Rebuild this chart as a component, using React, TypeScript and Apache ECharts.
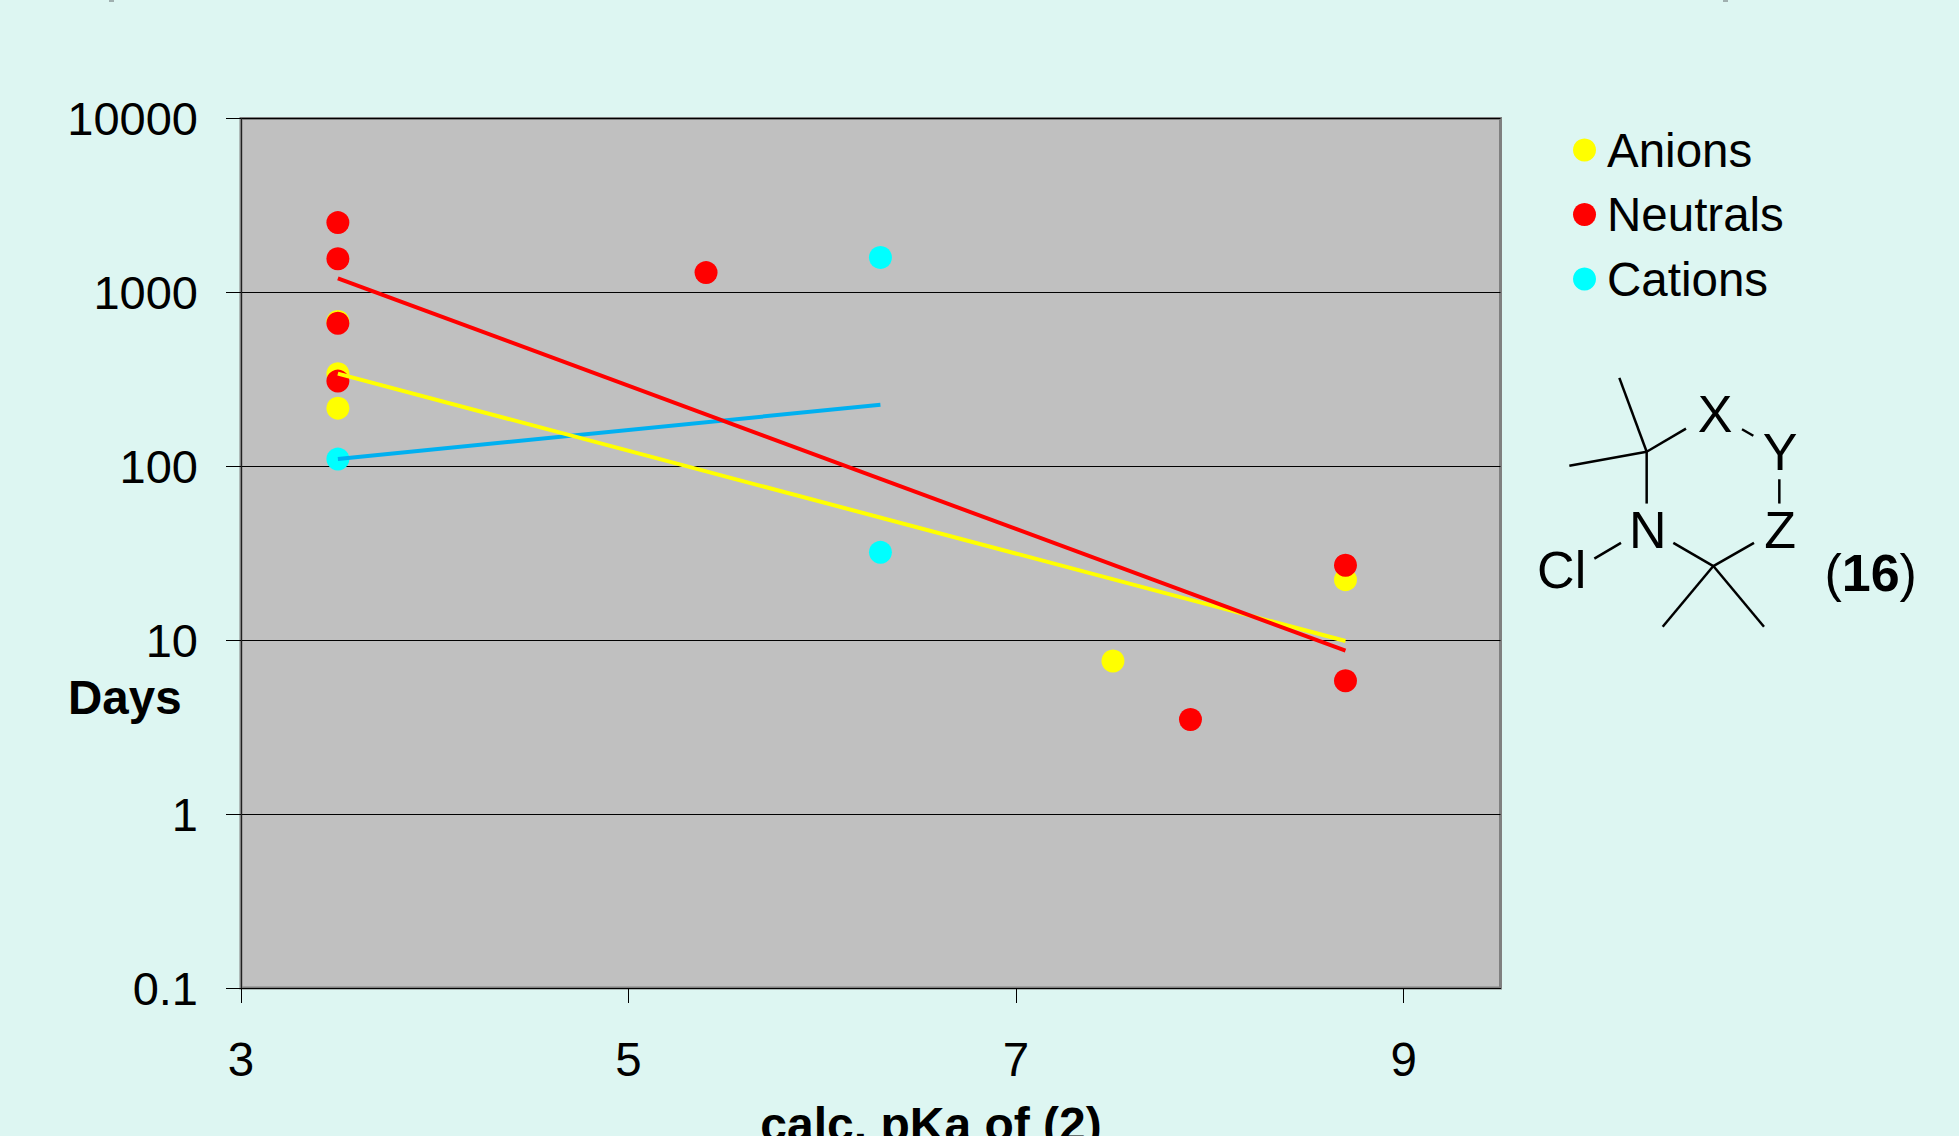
import React, { useEffect, useRef } from "react";
import * as echarts from "echarts";

const xTicks = [3, 5, 7, 9];
const anions: number[][] = [[3.5, 680], [3.5, 341], [3.5, 216], [7.5, 7.6], [8.7, 22.3]];
const neutrals: number[][] = [[3.5, 2520], [3.5, 1560], [3.5, 664], [3.5, 309], [5.4, 1300], [7.9, 3.5], [8.7, 5.85], [8.7, 27]];
const cations: number[][] = [[3.5, 110], [6.3, 1590], [6.3, 32]];
const anionTrend: number[][] = [[3.5, 341], [8.7, 9.9]];
const neutralTrend: number[][] = [[3.5, 1205], [8.7, 8.7]];
const cationTrend: number[][] = [[3.5, 110], [6.3, 226]];

const FONT = "'Liberation Sans', Arial, sans-serif";
const bonds = [
  [358, 778, 440, 985], [208, 1024, 440, 985], [440, 985, 558, 920], [440, 985, 440, 1130],
  [726, 922, 760, 940], [838, 1062, 838, 1130], [520, 1240, 640, 1305], [640, 1305, 762, 1240],
  [640, 1305, 488, 1475], [640, 1305, 792, 1475], [283, 1284, 363, 1240],
];
const atoms: [string, number, number][] = [
  ["X", 645, 880], ["Y", 840, 985], ["Z", 840, 1203], ["N", 443, 1203], ["Cl", 185, 1315],
];
const px = (v: number) => 1500 + v / 3;
const py = (v: number) => 100 + v / 2.8;

function scatter(name: string, color: string, data: number[][]) {
  return { name, type: "scatter", data, symbol: "circle", symbolSize: 23, itemStyle: { color, opacity: 1 }, z: 3, silent: true };
}
function trend(name: string, color: string, data: number[][]) {
  return { name, type: "line", data, symbol: "none", lineStyle: { color, width: 4 }, z: 4, silent: true };
}

export default function App() {
  const ref = useRef<HTMLDivElement>(null);
  useEffect(() => {
    document.body.style.margin = "0";
    const chart = echarts.init(ref.current!, undefined, { renderer: "svg" });
    chart.setOption({
      animation: false,
      backgroundColor: "#DDF6F2",
      textStyle: { fontFamily: FONT },
      grid: { left: 241, top: 118.5, width: 1259.5, height: 869.5, containLabel: false, show: true, backgroundColor: "#C0C0C0", borderColor: "#808080", borderWidth: 3 },
      xAxis: {
        type: "value", min: 3, max: 9.5, interval: 2,
        axisLine: { show: true, lineStyle: { color: "#000", width: 1 } },
        axisTick: { show: true, length: 15, customValues: xTicks, lineStyle: { color: "#000", width: 1 } },
        axisLabel: { show: true, customValues: xTicks, margin: 47, fontSize: 47.5, color: "#000", fontFamily: FONT },
        splitLine: { show: false },
      },
      yAxis: {
        type: "log", logBase: 10, min: 0.1, max: 10000,
        axisLine: { show: true, lineStyle: { color: "#202020", width: 1 } },
        axisTick: { show: true, length: 15, lineStyle: { color: "#000", width: 1 } },
        minorTick: { show: false },
        axisLabel: { margin: 43, fontSize: 47, color: "#000", fontFamily: FONT, formatter: (v: number) => String(Number(v.toPrecision(3))) },
        splitLine: { show: true, lineStyle: { color: "#000", width: 1 } },
      },
      legend: {
        orient: "vertical", left: 1568, top: 121, data: ["Anions", "Neutrals", "Cations"],
        icon: "circle", itemWidth: 23, itemHeight: 23, itemGap: 16.5, selectedMode: false,
        textStyle: { fontSize: 47.5, lineHeight: 46, color: "#000", fontFamily: FONT, padding: [0, 0, 0, 6] },
      },
      series: [
        scatter("Anions", "#FFFF00", anions),
        scatter("Neutrals", "#FF0000", neutrals),
        scatter("Cations", "#00FFFF", cations),
        trend("Cations trend", "#00B0F0", cationTrend),
        trend("Anions trend", "#FFFF00", anionTrend),
        trend("Neutrals trend", "#FF0000", neutralTrend),
      ],
      graphic: [
        { type: "rect", shape: { x: 109, y: 0, width: 5, height: 2 }, style: { fill: "#A0B0B0" } },
        { type: "rect", shape: { x: 1723, y: 0, width: 5, height: 2 }, style: { fill: "#A0B0B0" } },
        { type: "text", x: 68, y: 697, style: { text: "Days", font: `bold 47.5px ${FONT}`, fill: "#000", textVerticalAlign: "middle" } },
        { type: "text", x: 931, y: 1124, style: { text: "calc. pKa of (2)", font: `bold 48px ${FONT}`, fill: "#000", textAlign: "center", textVerticalAlign: "middle" } },
        ...bonds.map(([a, b, c, d]) => ({
          type: "line", shape: { x1: px(a), y1: py(b), x2: px(c), y2: py(d) }, style: { stroke: "#000", lineWidth: 2.5 },
        })),
        ...atoms.map(([t, x, y]) => ({
          type: "text", x: px(x), y: py(y), style: { text: t, font: `52px ${FONT}`, fill: "#000", textAlign: "center", textVerticalAlign: "middle" },
        })),
        {
          type: "text", x: px(1112), y: py(1323),
          style: {
            text: "({b|16})", font: `52px ${FONT}`, fill: "#000", textAlign: "center", textVerticalAlign: "middle",
            rich: { b: { font: `bold 52px ${FONT}`, fill: "#000" } },
          },
        },
      ],
    });
    return () => chart.dispose();
  }, []);
  return <div ref={ref} style={{ width: 1959, height: 1136 }} />;
}
